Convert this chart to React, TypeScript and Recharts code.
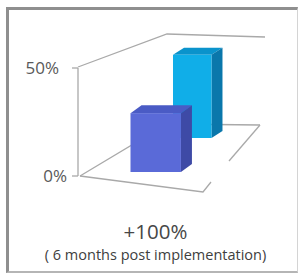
import { BarChart, Bar, XAxis, YAxis } from 'recharts'

const categories = ['+100%']
const note = '( 6 months post implementation)'
const baseline = [25]
const post = [50]
const yTicks = [0, 50]

const data = categories.map((name, i) => ({ name, baseline: baseline[i], post: post[i] }))

const W = 302
const H = 275
const Y_W = 60
const X_H = 90
const M = { top: 68, right: 37, bottom: 9, left: 18 }
// plot box (back wall) in page px
const L = M.left + Y_W
const T = M.top
const B = H - M.bottom - X_H
const R = W - M.right

const font = '"Open Sans", "Noto Sans", sans-serif'
const grid = '#a9a9a9'

type View = { dx: number; dy: number; kx: number; ky: number; ox: number; oy: number; face: string; top: string; side: string }

// fake 3d box drawn around the bar recharts gives us
function box(v: View) {
  return (p: any) => {
    const w = p.width * v.kx
    const h = p.height * v.ky
    const x0 = p.x + v.dx
    const x1 = x0 + w
    const b = p.y + p.height + v.dy
    const t = b - h
    return (
      <g>
        <polygon points={`${x0},${t} ${x0 + v.ox},${t - v.oy} ${x1 + v.ox},${t - v.oy} ${x1},${t}`} fill={v.top} />
        <polygon points={`${x1},${t} ${x1 + v.ox},${t - v.oy} ${x1 + v.ox},${b - v.oy} ${x1},${b}`} fill={v.side} />
        <rect x={x0} y={t} width={w} height={h} fill={v.face} />
      </g>
    )
  }
}

const backBox = box({ dx: 53, dy: -38, kx: 0.74, ky: 0.77, ox: 11, oy: 7, face: '#10aee8', top: '#0a93cc', side: '#0a77ab' })
const frontBox = box({ dx: -41.5, dy: -4, kx: 0.97, ky: 1.09, ox: 11, oy: 8, face: '#5a6ad8', top: '#4a5bc5', side: '#3e4aa6' })

function Walls() {
  const line = { stroke: grid, strokeWidth: 1.3, fill: 'none' }
  return (
    <g>
      <polyline points={`${L},${T - 1} ${L + 89},${T - 34} ${R},${T - 31}`} {...line} />
      <polyline points={`${L + 2},${B} ${L + 89},${B - 52} ${R - 5},${B - 51}`} {...line} />
      <polyline points={`${L + 2},${B} ${L + 125},${B + 16} ${L + 133},${B + 6}`} {...line} />
      <polyline points={`${L + 151},${B - 15} ${R - 5},${B - 51}`} {...line} />
    </g>
  )
}

// labels drift right toward the front of the floor
function ValTick(p: any) {
  const v = p.payload.value
  return (
    <text x={L - 11 - 8 * (v / 50)} y={p.y} dy={6} textAnchor="end" fontSize={17} fill="#595959" fontFamily={font}>
      {`${v}%`}
    </text>
  )
}

function CatTick(p: any) {
  const cx = p.x - 16
  return (
    <g>
      <text x={cx} y={B + 63} textAnchor="middle" fontSize={20.5} fill="#474747" fontFamily={font}>
        {p.payload.value}
      </text>
      <text x={cx} y={B + 84} textAnchor="middle" fontSize={14.5} fill="#404040" fontFamily={font}>
        {note}
      </text>
    </g>
  )
}

export default function App() {
  return (
    <div style={{ position: 'absolute', left: 0, top: 0, width: W, height: H, background: '#fff' }}>
      <div
        style={{
          position: 'absolute', left: 6, top: 7, width: 292, height: 266, boxSizing: 'border-box',
          borderTop: '3px solid #8f8f8f', borderLeft: '3px solid #8f8f8f',
          borderRight: '1px solid #d4d4d4', borderBottom: '2px solid #b5b5b5',
        }}
      />
      <div style={{ position: 'absolute', left: 0, top: 0 }}>
        <BarChart width={W} height={H} data={data} margin={M} barSize={52} barGap={0}>
          <Walls />
          <XAxis dataKey="name" height={X_H} axisLine={false} tickLine={false} tick={<CatTick />} />
          <YAxis
            domain={[0, 50]}
            ticks={yTicks}
            width={Y_W}
            axisLine={{ stroke: grid, strokeWidth: 1.3 }}
            tickLine={{ stroke: grid, strokeWidth: 1.3 }}
            tickSize={6}
            tick={<ValTick />}
          />
          <Bar dataKey="post" shape={backBox} isAnimationActive={false} />
          <Bar dataKey="baseline" shape={frontBox} isAnimationActive={false} />
        </BarChart>
      </div>
    </div>
  )
}
